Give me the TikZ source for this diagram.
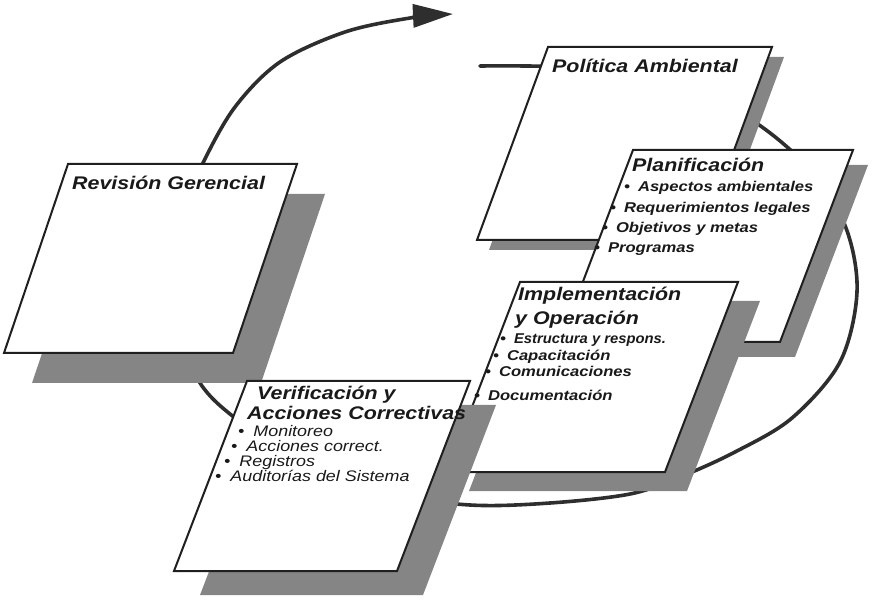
\documentclass[tikz,border=0pt]{standalone}
\usepackage{fontspec}
\setmainfont{Liberation Sans}[FakeStretch=1.17]
\usetikzlibrary{arrows.meta}

\begin{document}
\begin{tikzpicture}[
    x=1pt, y=-1pt,
    panel/.style={draw=black!88, line width=2pt, fill=white, line join=miter},
    shade/.style={fill=black!48},
    cycleline/.style={draw=black!82, line width=3.6pt, line cap=round},
    title/.style={anchor=base west, inner sep=0pt, text=black!90,
                  text height=13pt, text depth=3pt,
                  font=\fontsize{18.3}{20}\selectfont\bfseries\itshape},
    item/.style={anchor=base west, inner sep=0pt, text=black!90,
                 text height=10pt, text depth=2.5pt,
                 font=\fontsize{14.2}{16}\selectfont\bfseries\itshape},
    thinitem/.style={item, font=\fontsize{15.3}{16}\selectfont\itshape},
]
\useasboundingbox (0,0) rectangle (873,601);

% ── Ciclo de mejora continua ─────────────────────────────────
\draw[cycleline, -{Triangle[length=40pt, width=23pt]}] plot[smooth, tension=0.55] coordinates {
    (480,66) (600,69) (700,92) (762,127) (812,172) (846,228) (857,292)
    (840,362) (792,418) (735,452) (680,477) (630,494) (550,503) (470,505)
    (385,493) (300,462) (235,418) (200,383) (178,330) (175,262) (186,207)
    (203,163) (235,107) (280,62) (345,32) (410,18) (453,14)};

% ── Paneles con sombra (x/y esquina sup. izq., ancho, alto, sesgo, sombra) ──
\foreach \x/\y/\w/\h/\s/\dx/\dy in {
    548/47/224/193/71/12/10,    % Politica
    633/150/220/192/73/15/15,   % Planificacion
    520/282/218/190/73/22/19,   % Implementacion
    68/164/229/189/64/28/30,    % Revision
    247/381/223/190/73/26/24} { % Verificacion
  \fill[shade, shift={(\dx,\dy)}] (\x,\y) -- ++(\w,0) -- ++(-\s,\h) -- ++(-\w,0) -- cycle;
  \draw[panel] (\x,\y) -- ++(\w,0) -- ++(-\s,\h) -- ++(-\w,0) -- cycle;
}

% ── Textos ───────────────────────────────────────────────────
\node[title] (pol) at (552,73) {Política Ambiental};

\node[title] (pla) at (632,172) {Planificación};
\node[item] (pla1) at (624,192) {•\hspace{8pt}Aspectos ambientales};
\node[item] (pla2) at (610,213) {•\hspace{8pt}Requerimientos legales};
\node[item] (pla3) at (602,233) {•\hspace{8pt}Objetivos y metas};
\node[item] (pla4) at (594,253) {•\hspace{8pt}Programas};

\node[title] (imp) at (518,301) {Implementación};
\node[title] (impb) at (515,325) {y Operación};
\node[item] (imp1) at (500,344) {•\hspace{8pt}\scalebox{0.89}[1]{Estructura y respons.}};
\node[item] (imp2) at (493,361) {•\hspace{8pt}Capacitación};
\node[item] (imp3) at (485,377) {•\hspace{8pt}Comunicaciones};
\node[item] (imp4) at (474,401) {•\hspace{8pt}Documentación};

\node[title] (rev) at (72,190) {Revisión Gerencial};

\node[title] (ver) at (257,400) {Verificación y};
\node[title] (verb) at (247,420) {Acciones Correctivas};
\node[thinitem] (ver1) at (238,437) {•\hspace{9pt}Monitoreo};
\node[thinitem] (ver2) at (231,452) {•\hspace{9pt}Acciones correct.};
\node[thinitem] (ver3) at (224,467) {•\hspace{9pt}Registros};
\node[thinitem] (ver4) at (215,482) {•\hspace{9pt}Auditorías del Sistema};

\end{tikzpicture}
\end{document}
